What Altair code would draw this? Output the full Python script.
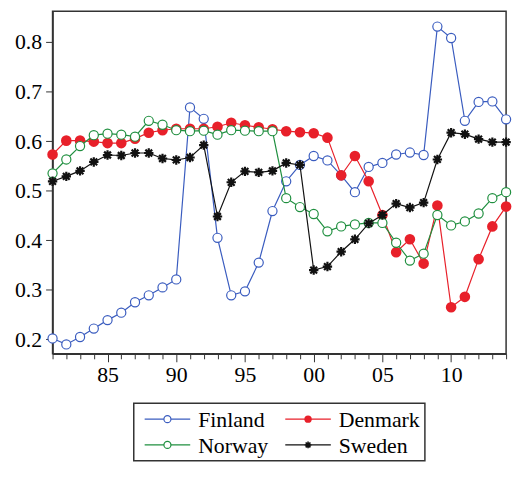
import altair as alt
import pandas as pd

years = list(range(1981, 2015))
countries = ["Finland", "Denmark", "Norway", "Sweden"]

finland = [0.202, 0.190, 0.205, 0.222, 0.239, 0.254, 0.275, 0.289, 0.305, 0.321,
           0.668, 0.645, 0.405, 0.289, 0.297, 0.355, 0.459, 0.519, 0.552, 0.570,
           0.561, 0.531, 0.497, 0.548, 0.556, 0.573, 0.577, 0.572, 0.831, 0.808,
           0.641, 0.679, 0.680, 0.644]
denmark = [0.573, 0.601, 0.601, 0.599, 0.596, 0.596, 0.605, 0.617, 0.622, 0.625,
           0.625, 0.625, 0.629, 0.637, 0.632, 0.628, 0.624, 0.620, 0.618, 0.616,
           0.607, 0.531, 0.570, 0.519, 0.451, 0.376, 0.402, 0.353, 0.470, 0.265,
           0.286, 0.362, 0.428, 0.468]
norway = [0.535, 0.563, 0.590, 0.612, 0.615, 0.613, 0.609, 0.641, 0.633, 0.622,
          0.620, 0.621, 0.613, 0.622, 0.621, 0.620, 0.620, 0.485, 0.467, 0.453,
          0.418, 0.428, 0.432, 0.435, 0.435, 0.395, 0.359, 0.373, 0.451, 0.430,
          0.438, 0.454, 0.485, 0.497]
sweden = [0.519, 0.529, 0.540, 0.558, 0.572, 0.571, 0.576, 0.576, 0.565, 0.562,
          0.567, 0.592, 0.448, 0.517, 0.539, 0.537, 0.540, 0.556, 0.552, 0.340,
          0.347, 0.377, 0.402, 0.434, 0.451, 0.474, 0.466, 0.476, 0.563, 0.617,
          0.614, 0.604, 0.598, 0.598]

y_ticks = [0.2, 0.3, 0.4, 0.5, 0.6, 0.7, 0.8]

series = {"Finland": finland, "Denmark": denmark, "Norway": norway, "Sweden": sweden}
rows = []
for c in countries:
    for yr, v in zip(years, series[c]):
        rows.append({"year": yr, "value": v, "country": c})
df = pd.DataFrame(rows)

colors = {"Finland": "#3a5cbf", "Denmark": "#e8202a", "Norway": "#1f8f3f", "Sweden": "#111111"}
ASTERISK = "M-1,0L1,0M0,-1L0,1M-0.72,-0.72L0.72,0.72M-0.72,0.72L0.72,-0.72"
FONT = "Liberation Serif"

xscale = alt.Scale(domain=[1981, 2014], nice=False)
yscale = alt.Scale(domain=[0.171, 0.862], nice=False, zero=False)

xaxis = alt.Axis(
    values=years, title=None, grid=False,
    labelExpr="datum.value % 5 === 0 ? substring('' + datum.value, 2, 4) : ''",
    tickSize={"condition": {"test": "datum.value % 5 === 0", "value": 8}, "value": 5},
    labelPadding=3, labelFlush=False, labelOverlap=False,
    labelFont=FONT, labelFontSize=22, labelColor="black",
)
yaxis = alt.Axis(values=y_ticks, format=".1f", title=None, grid=False,
                 tickSize=7, labelPadding=4,
                 labelFont=FONT, labelFontSize=22, labelColor="black")

layers = []
for c in countries:
    base = alt.Chart(df).transform_filter(alt.datum.country == c).encode(
        x=alt.X("year:Q", scale=xscale, axis=xaxis),
        y=alt.Y("value:Q", scale=yscale, axis=yaxis),
    )
    layers.append(base.mark_line(color=colors[c], strokeWidth=1.2))
    if c == "Denmark":
        pts = base.mark_point(shape="circle", filled=True, color=colors[c], size=115, opacity=1)
    elif c == "Sweden":
        pts = base.mark_point(shape=ASTERISK, filled=False, color=colors[c], size=90,
                              strokeWidth=2.2, opacity=1)
    else:
        pts = base.mark_point(shape="circle", filled=True, fill="white", stroke=colors[c],
                              strokeWidth=1.2, size=85, opacity=1)
    layers.append(pts)

main = alt.layer(*layers).properties(width=458, height=346)

# legend
leg_df = pd.DataFrame({
    "country": countries,
    "col": [i % 2 for i in range(len(countries))],
    "row": [i // 2 for i in range(len(countries))],
})
lx = alt.X("col:Q", scale=alt.Scale(domain=[0, 1], range=[11, 153]), axis=None)
ly = alt.Y("row:Q", scale=alt.Scale(domain=[0, 1], range=[16, 42]), axis=None)
leg_layers = []
for c in countries:
    lb = alt.Chart(leg_df).transform_filter(alt.datum.country == c).encode(x=lx, y=ly)
    leg_layers.append(lb.mark_rule(color=colors[c], strokeWidth=1.2, x2Offset=46).encode(x2="col:Q"))
    if c == "Denmark":
        p = lb.mark_point(shape="circle", filled=True, color=colors[c], size=55, opacity=1, xOffset=23)
    elif c == "Sweden":
        p = lb.mark_point(shape=ASTERISK, filled=False, color=colors[c], size=45,
                          strokeWidth=1.6, opacity=1, xOffset=23)
    else:
        p = lb.mark_point(shape="circle", filled=True, fill="white", stroke=colors[c],
                          strokeWidth=1.2, size=50, opacity=1, xOffset=23)
    leg_layers.append(p)
leg_layers.append(
    alt.Chart(leg_df).mark_text(align="left", baseline="middle", dx=54, dy=1,
                                font=FONT, fontSize=22, color="black")
    .encode(x=lx, y=ly, text="country:N")
)
legend = alt.layer(*leg_layers).properties(width=294, height=58)

chart = alt.vconcat(main, legend, spacing=50, center=True, bounds="flush").properties(
    padding={"left": 5, "top": 0, "right": 0, "bottom": 0}
).configure_axis(
    domainColor="#333333", domainWidth=1.5, tickColor="#333333", tickWidth=1,
).configure_view(
    stroke="#333333", strokeWidth=1.5,
)

chart.save("out.html", embed_options={"renderer": "svg", "actions": False})
